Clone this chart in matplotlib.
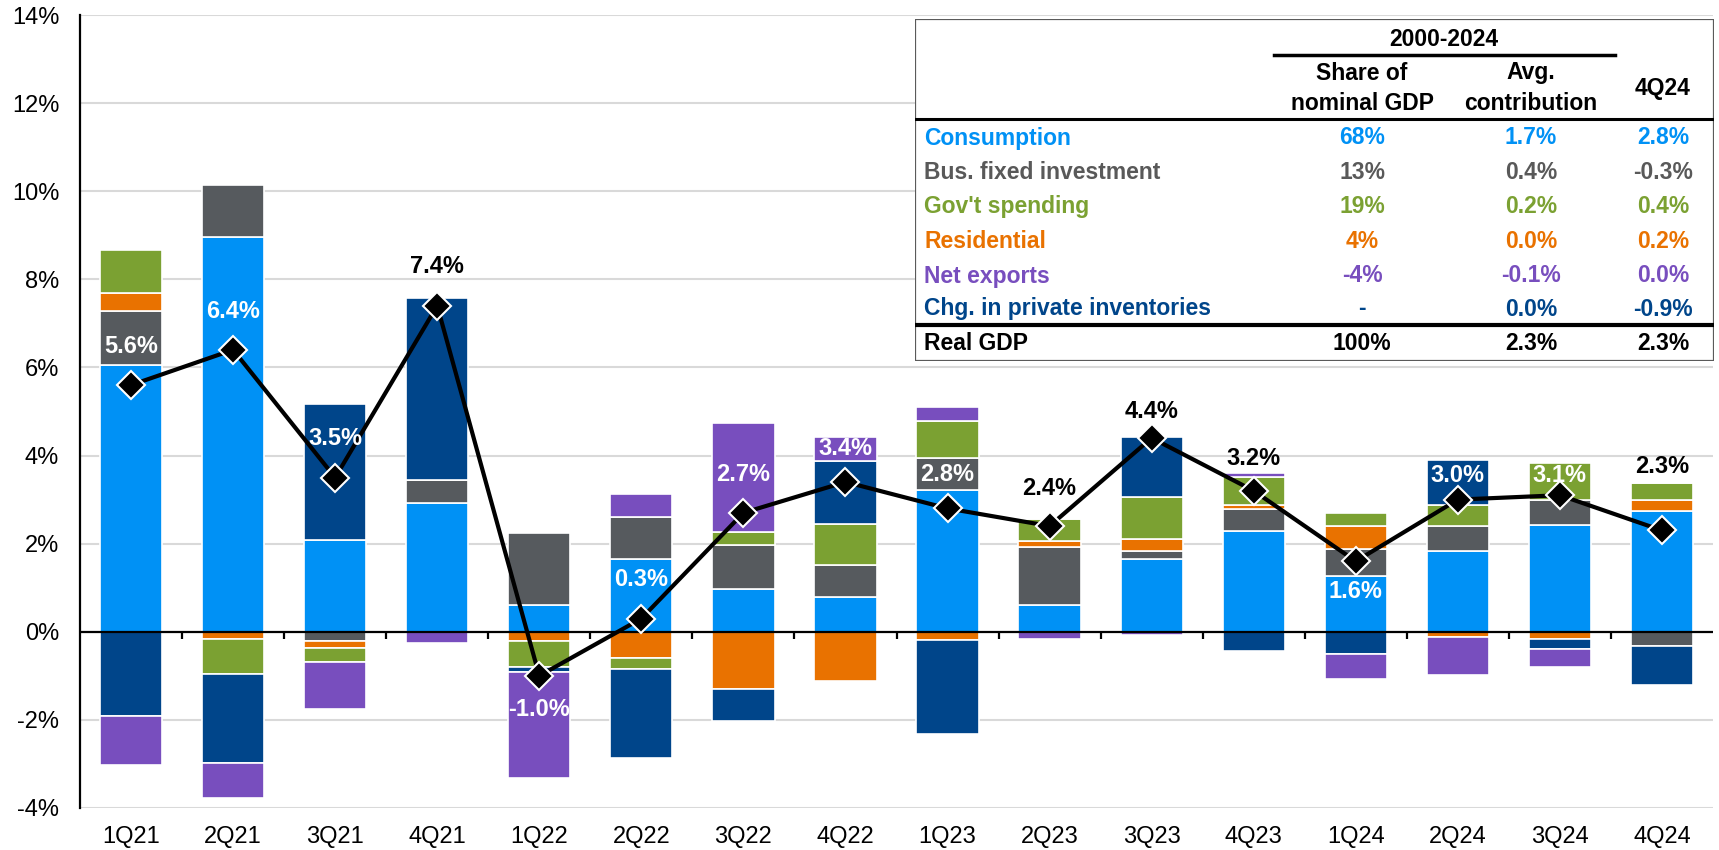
import matplotlib

matplotlib.use("Agg")
import matplotlib.pyplot as plt
import numpy as np
from matplotlib.patches import Rectangle

plt.rcParams["font.family"] = ["Liberation Sans", "DejaVu Sans"]

QUARTERS = ["1Q21", "2Q21", "3Q21", "4Q21", "1Q22", "2Q22", "3Q22", "4Q22",
            "1Q23", "2Q23", "3Q23", "4Q23", "1Q24", "2Q24", "3Q24", "4Q24"]

# contributions to real GDP growth, percentage points
consumption = [6.06, 8.96, 2.09, 2.93, 0.61, 1.66, 0.98, 0.80,
               3.21, 0.60, 1.65, 2.29, 1.26, 1.84, 2.42, 2.74]
bus_fixed_inv = [1.22, 1.18, -0.21, 0.52, 1.64, 0.95, 1.00, 0.72,
                 0.73, 1.32, 0.19, 0.50, 0.62, 0.55, 0.57, -0.32]
residential = [0.41, -0.17, -0.15, 0.0, -0.22, -0.59, -1.31, -1.12,
               -0.18, 0.13, 0.26, 0.08, 0.51, -0.12, -0.17, 0.24]
govt_spending = [0.97, -0.78, -0.32, 0.0, -0.59, -0.26, 0.29, 0.92,
                 0.84, 0.51, 0.96, 0.64, 0.30, 0.48, 0.84, 0.40]
inventories = [-1.91, -2.02, 3.09, 4.13, -0.11, -2.02, -0.72, 1.43,
               -2.13, 0.0, 1.35, -0.44, -0.50, 1.04, -0.23, -0.88]
net_exports = [-1.12, -0.80, -1.08, -0.26, -2.40, 0.52, 2.46, 0.54,
               0.32, -0.16, -0.08, 0.09, -0.58, -0.86, -0.40, 0.0]
real_gdp = [5.6, 6.4, 3.5, 7.4, -1.0, 0.3, 2.7, 3.4,
            2.8, 2.4, 4.4, 3.2, 1.6, 3.0, 3.1, 2.3]

# table
table_labels = ["Consumption", "Bus. fixed investment", "Gov't spending",
                "Residential", "Net exports", "Chg. in private inventories"]
share_nominal = ["68%", "13%", "19%", "4%", "-4%", "-"]
avg_contrib = ["1.7%", "0.4%", "0.2%", "0.0%", "-0.1%", "0.0%"]
q4_24 = ["2.8%", "-0.3%", "0.4%", "0.2%", "0.0%", "-0.9%"]
total_row = ["Real GDP", "100%", "2.3%", "2.3%"]

BLUE = "#0091F5"
GRAY = "#565A5E"
GREEN = "#7BA132"
ORANGE = "#E97200"
PURPLE = "#784EBE"
NAVY = "#00458A"

series = [consumption, bus_fixed_inv, residential, govt_spending, inventories, net_exports]
colors = [BLUE, GRAY, ORANGE, GREEN, NAVY, PURPLE]
text_colors = [BLUE, "#595959", GREEN, ORANGE, PURPLE, NAVY]

# label placement relative to the diamond, and colour of each label
label_dy = [0.88, 0.88, 0.89, 0.89, -0.77, 0.88, 0.87, 0.75,
            0.77, 0.85, 0.6, 0.73, -0.68, 0.55, 0.45, 1.46]
label_white = [True, True, True, False, True, True, True, True,
               True, False, False, False, True, True, True, False]

W, H = 1719, 850
fig = plt.figure(figsize=(W / 100, H / 100), dpi=100)
ax = fig.add_axes([80 / W, 1 - 808 / H, (1713 - 80) / W, (808 - 15) / H])

x = np.arange(len(QUARTERS))
pos_base = np.zeros(len(x))
neg_base = np.zeros(len(x))
for vals, col in zip(series, colors):
    v = np.asarray(vals, dtype=float)
    base = np.where(v >= 0, pos_base, neg_base)
    ax.bar(x, v, 0.61, bottom=base, color=col, edgecolor="white",
           linewidth=1.2, zorder=2)
    pos_base += np.where(v >= 0, v, 0)
    neg_base += np.where(v < 0, v, 0)

ax.axhline(0, color="black", lw=1.6, zorder=3)
ax.vlines(x[:-1] + 0.5, -0.17, 0, color="black", lw=1.6, zorder=3)

ax.plot(x, real_gdp, color="black", lw=3, marker="D", markersize=14,
        markerfacecolor="black", markeredgecolor="white", markeredgewidth=1.5,
        zorder=4)
for xi, g, dy, white in zip(x, real_gdp, label_dy, label_white):
    ax.text(xi, g + dy, f"{g:.1f}%", ha="center", va="center", fontsize=17,
            fontweight="bold", color="white" if white else "black", zorder=5)

ax.set_xlim(-0.5, len(x) - 0.5)
ax.set_ylim(-4, 14)
ax.set_yticks(np.arange(-4, 15, 2))
ax.set_yticklabels([f"{t}%" for t in range(-4, 15, 2)], fontsize=17)
ax.set_xticks(x)
ax.set_xticklabels(QUARTERS, fontsize=17)
ax.tick_params(axis="y", length=0, pad=15)
ax.tick_params(axis="x", length=0, pad=13)
ax.grid(axis="y", color="#D9D9D9", lw=1.5, zorder=0)
ax.set_axisbelow(True)
for side in ["top", "right", "bottom"]:
    ax.spines[side].set_visible(False)
ax.spines["left"].set_linewidth(1.6)

# table in pixel coordinates
tx0, tx1, ty0, ty1 = 915, 1714, 19, 361
tab = fig.add_axes([tx0 / W, 1 - ty1 / H, (tx1 - tx0) / W, (ty1 - ty0) / H])
tab.set_xlim(tx0, tx1)
tab.set_ylim(ty1, ty0)
tab.axis("off")
tab.add_patch(Rectangle((tx0, ty0), tx1 - tx0, ty1 - ty0, facecolor="white",
                        edgecolor="#5A5A5A", lw=1.6, zorder=0))
col_x = [1362, 1531, 1663]
tkw = dict(fontsize=16.5, fontweight="bold", va="center")
tab.text(1444, 39, "2000-2024", ha="center", **tkw)
tab.plot([1274, 1615], [55, 55], color="black", lw=2.5)
tab.text(col_x[0], 73, "Share of", ha="center", **tkw)
tab.text(col_x[0], 104, "nominal GDP", ha="center", **tkw)
tab.text(col_x[1], 73, "Avg.", ha="center", **tkw)
tab.text(col_x[1], 104, "contribution", ha="center", **tkw)
tab.text(col_x[2], 89, "4Q24", ha="center", **tkw)
tab.plot([tx0, tx1], [119, 119], color="black", lw=2.2)
row_y = [138, 172.5, 206.5, 241.5, 276, 309]
for i, ry in enumerate(row_y):
    c = text_colors[i]
    tab.text(924, ry, table_labels[i], ha="left", color=c, **tkw)
    for cx, val in zip(col_x, [share_nominal[i], avg_contrib[i], q4_24[i]]):
        tab.text(cx, ry, val, ha="center", color=c, **tkw)
tab.plot([tx0, tx1], [325, 325], color="black", lw=3)
tab.text(924, 343, total_row[0], ha="left", color="black", **tkw)
for cx, val in zip(col_x, total_row[1:]):
    tab.text(cx, 343, val, ha="center", color="black", **tkw)

fig.savefig("out.png", dpi=100)
